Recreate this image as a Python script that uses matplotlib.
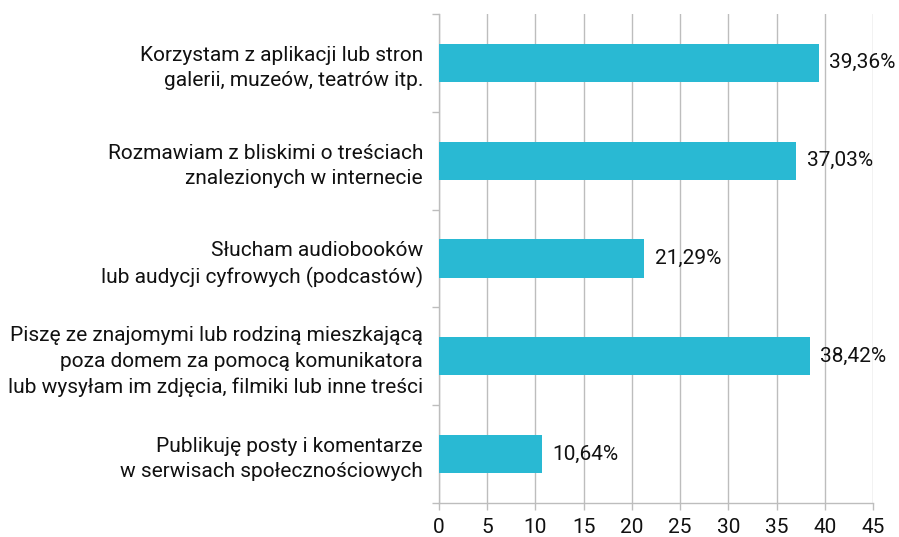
import matplotlib.pyplot as plt
import numpy as np

plt.rcParams['font.family'] = ['Roboto', 'DejaVu Sans']

categories = [
    "Korzystam z aplikacji lub stron\ngalerii, muzeów, teatrów itp.",
    "Rozmawiam z bliskimi o treściach\nznalezionych w internecie",
    "Słucham audiobooków\nlub audycji cyfrowych (podcastów)",
    "Piszę ze znajomymi lub rodziną mieszkającą\npoza domem za pomocą komunikatora\nlub wysyłam im zdjęcia, filmiki lub inne treści",
    "Publikuję posty i komentarze\nw serwisach społecznościowych",
]
values = [39.36, 37.03, 21.29, 38.42, 10.64]
xticks = [0, 5, 10, 15, 20, 25, 30, 35, 40, 45]

bar_color = '#29B9D3'
grid_color = '#BDBDBD'
text_color = '#111111'
fs = 15

fig = plt.figure(figsize=(8.99, 5.37), dpi=100)
ax = fig.add_axes([0.4883, 0.0633, 0.4828, 0.9107])

y = np.arange(len(categories))
ax.barh(y, values, height=0.39, color=bar_color, zorder=3)

for yi, v in zip(y, values):
    ax.text(v + 1.1, yi, f"{v:.2f}%".replace('.', ','), va='center', ha='left',
            fontsize=fs, color=text_color, zorder=4)

ax.set_xlim(0, 45)
ax.set_ylim(len(categories) - 0.5, -0.5)
ax.set_xticks(xticks)
ax.set_xticklabels([str(t) for t in xticks], fontsize=fs, color=text_color)
ax.set_yticks(y)
ax.set_yticklabels(categories, fontsize=fs, color=text_color, linespacing=1.42)
ax.set_yticks(np.arange(-0.5, len(categories), 1), minor=True)

ax.tick_params(axis='y', which='major', length=0, pad=11.5)
ax.tick_params(axis='y', which='minor', length=5, color=grid_color, width=1)
ax.tick_params(axis='x', length=5, color=grid_color, width=1, pad=6)

ax.grid(axis='x', color=grid_color, linewidth=1, zorder=0)
for s in ['top', 'right']:
    ax.spines[s].set_visible(False)
for s in ['left', 'bottom']:
    ax.spines[s].set_color(grid_color)
    ax.spines[s].set_linewidth(1)

fig.savefig('out.png', dpi=100, facecolor='white')
